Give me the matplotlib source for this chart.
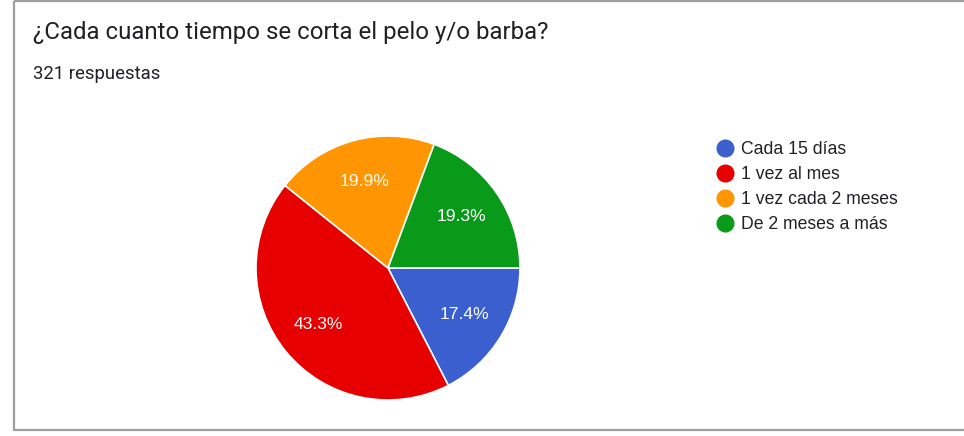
import matplotlib
matplotlib.use("Agg")
import matplotlib.pyplot as plt
from matplotlib.lines import Line2D
from matplotlib.patches import Rectangle

title = "¿Cada cuanto tiempo se corta el pelo y/o barba?"
subtitle = "321 respuestas"
categories = ["Cada 15 días", "1 vez al mes", "1 vez cada 2 meses", "De 2 meses a más"]
counts = [56, 139, 64, 62]
colors = ["#3b5fcf", "#e60000", "#ff9500", "#0a9a1a"]

W, H = 964, 436
fig = plt.figure(figsize=(W / 100, H / 100), dpi=100)
ax = fig.add_axes([0, 0, 1, 1])

wedges, texts, autotexts = ax.pie(
    counts, colors=colors, startangle=0, counterclock=True,
    center=(388, 268), radius=132, autopct="%.1f%%", pctdistance=0.68,
    wedgeprops=dict(edgecolor="white", linewidth=1.2),
    textprops=dict(color="white", fontsize=12.6, family="Liberation Sans"),
)
ax.set_xlim(0, W)
ax.set_ylim(H, 0)
ax.set_aspect("auto")
ax.axis("off")

# border
ax.add_patch(Rectangle((14, 1), W, 429, fill=False, edgecolor="#9e9e9e", linewidth=1.6))

ax.text(33, 33, title, fontsize=17.3, family="Roboto", color="#202124", va="center", ha="left")
ax.text(33, 74, subtitle, fontsize=13.3, family="Roboto", color="#202124", va="center", ha="left")

handles = [Line2D([], [], marker="o", linestyle="none", markersize=12,
                  markerfacecolor=c, markeredgecolor=c) for c in colors]
leg = ax.legend(handles, categories, loc="upper left", bbox_to_anchor=(707, 132),
                bbox_transform=ax.transData, frameon=False,
                prop=dict(family="Liberation Sans", size=12.7),
                handlelength=1.0, handletextpad=0.4, labelspacing=0.46,
                borderpad=0, labelcolor="#202124")

fig.savefig("out.png", dpi=100)
